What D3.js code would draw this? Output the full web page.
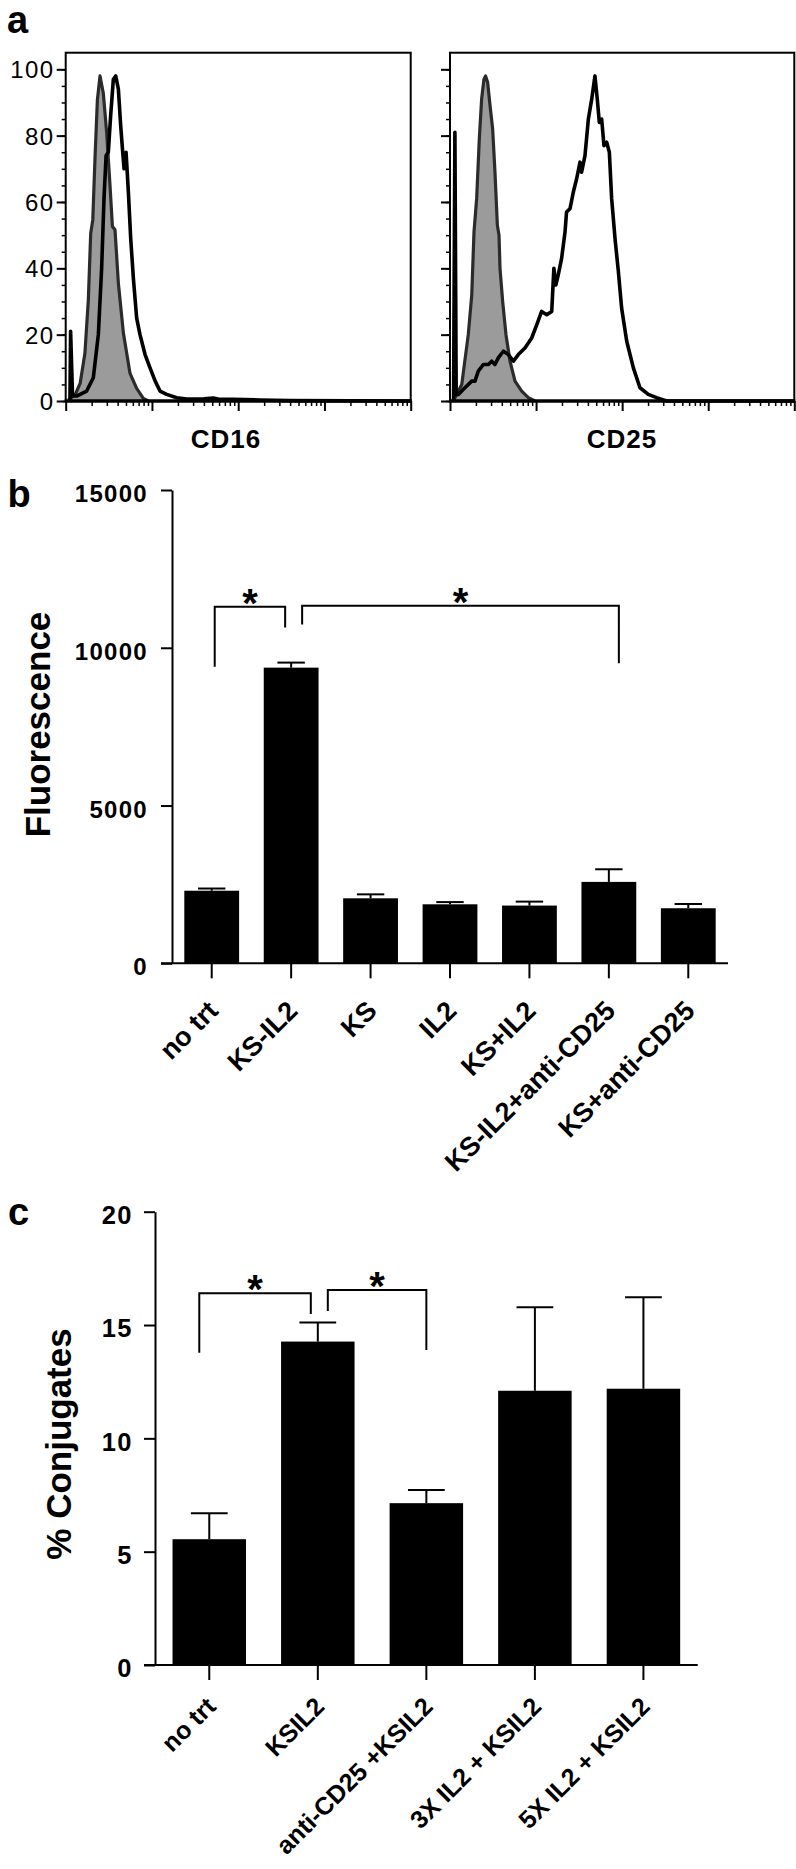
<!DOCTYPE html>
<html>
<head>
<meta charset="utf-8">
<script src="https://cdn.jsdelivr.net/npm/d3@7.9.0/dist/d3.min.js"></script>
<style>
  body { margin: 0; background: #fff; }
  svg { display: block; }
</style>
</head>
<body>
<svg id="fig" width="796" height="1869"></svg>
<script>
const FONT = '"Liberation Sans", Arial, Helvetica, sans-serif';

// ---- panel a: flow histograms, [fluorescence, % of max] ----
const cd16Isotype = [[1.07,0.3],[1.28,1.8],[1.47,5.3],[1.67,14.4],[1.83,30.5],[1.95,50.6],[2.06,54.6],[2.19,73.7],[2.33,90.8],[2.5,98],[2.73,92.8],[2.99,80.7],[3.27,64.6],[3.48,52.6],[3.73,51.6],[4.08,35.5],[4.67,20.4],[5.57,8.3],[6.65,3.8],[7.94,0.8],[9.08,0]];
const cd16Stained = [[1.12,0],[1.14,21],[1.2,1.5],[1.34,1.5],[1.75,3],[2.09,7],[2.39,20],[2.61,40],[2.78,61],[2.94,74],[3.12,75],[3.32,86],[3.57,97],[3.8,98],[4.08,94],[4.34,83],[4.58,75],[4.75,70],[5.01,75],[5.33,63],[5.67,49],[6.09,37],[6.65,25],[7.27,20],[8.32,14],[9.5,10],[10.9,6],[12.4,3],[14.8,2],[19.4,1],[25.3,0.6],[40,0.7],[51.5,0.9],[60,0.5],[88,0.5],[179,0.3],[400,0.1],[10000,0]];
const cd25Isotype = [[1.1,0],[1.14,1],[1.37,5],[1.63,20],[1.79,32],[1.9,51],[2.04,61],[2.19,79],[2.33,91],[2.48,97],[2.59,98],[2.74,96],[2.92,89],[3.13,82],[3.33,69],[3.55,53],[3.71,50],[3.81,40],[4.09,30],[4.47,20],[4.98,12],[5.69,6],[6.81,3],[8.13,1],[9.7,0]];
const cd25Stained = [[1.1,0],[1.14,81],[1.18,2],[1.25,2],[1.49,4],[1.79,6],[1.95,6],[2.13,9],[2.44,11],[2.79,11],[3.05,12],[3.33,11],[3.64,13],[4.17,15],[4.76,14],[5.45,12],[6.22,14],[7.43,16],[8.89,19],[10.2,23],[11.6,27],[13.3,26],[15.2,27],[16.1,40],[17,35],[18.1,38],[19.8,43],[21.7,51],[22.6,57],[24.8,58],[27.1,63],[29.6,67],[32.4,72],[33.8,69],[37,74],[40.5,85],[44.3,91],[48.3,98],[51.4,91],[54.3,84],[57.8,85],[61.5,77],[66.1,78],[71,75],[75.5,61],[82.6,49],[90.4,39],[98.6,28],[113,18],[135,10],[161,4],[201,2],[251,1],[329,0],[10000,0]];
const histTicks = [0, 20, 40, 60, 80, 100];
const histMinorTicks = d3.range(0, 101, 5);
const logMajor = [1, 10, 100, 1000, 10000];

// ---- panel b ----
const bTreatments = ['no trt', 'KS-IL2', 'KS', 'IL2', 'KS+IL2', 'KS-IL2+anti-CD25', 'KS+anti-CD25'];
const bMeans = [2300, 9370, 2060, 1870, 1830, 2580, 1745];
const bErrors = [70, 160, 125, 70, 125, 400, 135];
const bTicks = [0, 5000, 10000, 15000];
const bBrackets = [
  { from: 'no trt', to: 'KS-IL2', top: 11300, leftEnd: 9400, rightEnd: 10640 },
  { from: 'KS-IL2', to: 'KS-IL2+anti-CD25', top: 11330, leftEnd: 10740, rightEnd: 9510 },
];

// ---- panel c ----
const cTreatments = ['no trt', 'KSIL2', 'anti-CD25 +KSIL2', '3X IL2 + KSIL2', '5X IL2 + KSIL2'];
const cMeans = [5.55, 14.27, 7.14, 12.1, 12.19];
const cErrors = [1.14, 0.84, 0.58, 3.68, 4.04];
const cTicks = [0, 5, 10, 15, 20];
const cBrackets = [
  { from: 'no trt', to: 'KSIL2', top: 16.4, leftEnd: 13.78, rightEnd: 15.49 },
  { from: 'KSIL2', to: 'anti-CD25 +KSIL2', top: 16.55, leftEnd: 15.62, rightEnd: 13.9 },
];

const svg = d3.select('#fig').attr('font-family', FONT);

function panelLetter(t, x, y) {
  svg.append('text').attr('x', x).attr('y', y).attr('font-size', 38)
    .attr('font-weight', 'bold').text(t);
}

// ---------------- panel a ----------------
let yHist = d3.scaleLinear().domain([0, 100]).range([401, 69.3]);

function drawHistogram(x, isotype, stained, label, labelX, showLabels) {
  let g = svg.append('g');
  let [x0, x1] = x.range();
  let top = yHist(105);
  let bottom = yHist(0);

  let line = d3.line().x(d => x(d[0])).y(d => yHist(d[1]));
  let area = d3.area().x(d => x(d[0])).y0(bottom).y1(d => yHist(d[1]));

  g.append('path').datum(isotype).attr('d', area).attr('fill', '#9b9b9b');
  g.append('path').datum(isotype).attr('d', line)
    .attr('fill', 'none').attr('stroke', '#2b2b2b').attr('stroke-width', 3.2)
    .attr('stroke-linejoin', 'round');
  g.append('path').datum(stained).attr('d', line)
    .attr('fill', 'none').attr('stroke', '#000').attr('stroke-width', 3.6)
    .attr('stroke-linejoin', 'round');

  // frame, with heavier bottom edge
  g.append('rect').attr('x', x0).attr('y', top)
    .attr('width', x1 - x0).attr('height', bottom - top)
    .attr('fill', 'none').attr('stroke', '#000').attr('stroke-width', 2);
  g.append('line').attr('x1', x0 - 1).attr('x2', x1 + 1)
    .attr('y1', bottom).attr('y2', bottom)
    .attr('stroke', '#000').attr('stroke-width', 3.5);

  // y ticks
  let yAxis = d3.axisLeft(yHist).tickValues(histTicks).tickSize(9).tickPadding(2).tickSizeOuter(0);
  if (!showLabels) yAxis.tickFormat('');
  let ya = g.append('g').attr('transform', `translate(${x0},0)`).call(yAxis);
  ya.select('.domain').remove();
  ya.selectAll('line').attr('stroke-width', 2);
  ya.selectAll('text').attr('font-family', FONT).attr('font-size', 24)
    .attr('letter-spacing', 1.5).attr('dy', '0.36em').attr('fill', '#000');

  let yMinor = g.append('g').attr('transform', `translate(${x0},0)`)
    .call(d3.axisLeft(yHist).tickValues(histMinorTicks).tickSize(4).tickFormat(''));
  yMinor.select('.domain').remove();
  yMinor.selectAll('line').attr('stroke-width', 1.5);

  // log x ticks
  let minor = [];
  logMajor.slice(0, -1).forEach(dec => d3.range(2, 10).forEach(k => minor.push(k * dec)));
  let xa = g.append('g').attr('transform', `translate(0,${bottom})`)
    .call(d3.axisBottom(x).tickValues(logMajor).tickSize(10).tickFormat(''));
  xa.select('.domain').remove();
  xa.selectAll('line').attr('stroke-width', 2);
  let xm = g.append('g').attr('transform', `translate(0,${bottom})`)
    .call(d3.axisBottom(x).tickValues(minor).tickSize(5).tickFormat(''));
  xm.select('.domain').remove();
  xm.selectAll('line').attr('stroke-width', 1.5);

  g.append('text').attr('x', labelX).attr('y', 448).attr('text-anchor', 'middle')
    .attr('font-size', 26).attr('font-weight', 'bold').attr('letter-spacing', 1).text(label);
}

let xCd16 = d3.scaleLog().domain([1, 10000]).range([65.7, 410.7]);
let xCd25 = d3.scaleLog().domain([1, 10000]).range([450, 794.3]);
drawHistogram(xCd16, cd16Isotype, cd16Stained, 'CD16', 226, true);
drawHistogram(xCd25, cd25Isotype, cd25Stained, 'CD25', 622, false);
panelLetter('a', 7, 33);

// ---------------- bar panels ----------------
function drawBarPanel(o) {
  let g = svg.append('g');
  let x = d3.scaleBand().domain(o.categories).range(o.xRange)
    .paddingInner(o.pad).paddingOuter(o.pad / 2);
  let y = d3.scaleLinear().domain([0, o.max]).range(o.yRange);
  let cx = c => x(c) + x.bandwidth() / 2;
  let cap = x.bandwidth() / 4;

  // error bars (upper only)
  o.means.forEach((m, i) => {
    let c = cx(o.categories[i]);
    g.append('line').attr('x1', c).attr('x2', c)
      .attr('y1', y(m)).attr('y2', y(m + o.errors[i]))
      .attr('stroke', '#000').attr('stroke-width', 2);
    g.append('line').attr('x1', c - cap).attr('x2', c + cap)
      .attr('y1', y(m + o.errors[i])).attr('y2', y(m + o.errors[i]))
      .attr('stroke', '#000').attr('stroke-width', 2);
  });

  g.selectAll('rect.bar').data(o.means).join('rect')
    .attr('class', 'bar')
    .attr('x', (d, i) => x(o.categories[i]))
    .attr('y', d => y(d))
    .attr('width', x.bandwidth())
    .attr('height', d => y(0) - y(d))
    .attr('fill', '#000');

  // y axis
  let ya = g.append('g').attr('transform', `translate(${o.xRange[0]},0)`)
    .call(d3.axisLeft(y).tickValues(o.ticks).tickFormat(d3.format('d'))
      .tickSize(11).tickPadding(o.tickPad).tickSizeOuter(0));
  ya.selectAll('line, path').attr('stroke-width', 2);
  ya.selectAll('text').attr('font-family', FONT).attr('font-size', o.tickFont)
    .attr('font-weight', 'bold').attr('letter-spacing', o.tickSpacing)
    .attr('dy', o.tickDy).attr('fill', '#000');

  // x axis
  let xa = g.append('g').attr('transform', `translate(0,${y(0)})`)
    .call(d3.axisBottom(x).tickSize(15).tickSizeOuter(0));
  xa.select('.domain').attr('d', `M${o.xRange[0] - 11},0H${o.xRange[1]}`);
  xa.selectAll('line, path').attr('stroke-width', 2);
  xa.selectAll('text')
    .attr('font-family', FONT).attr('font-size', o.labelFont).attr('font-weight', 'bold')
    .attr('fill', '#000').attr('text-anchor', 'end')
    .attr('x', 0).attr('y', 0).attr('dy', 0)
    .attr('transform', `translate(${o.labelDx},${o.labelDy}) rotate(-45)`);

  // significance brackets
  o.brackets.forEach((b, i) => {
    let xl = cx(b.from) + o.nudge[i][0];
    let xr = cx(b.to) + o.nudge[i][1];
    g.append('path')
      .attr('d', `M${xl},${y(b.leftEnd)}V${y(b.top)}H${xr}V${y(b.rightEnd)}`)
      .attr('fill', 'none').attr('stroke', '#000').attr('stroke-width', 2);
    g.append('text').attr('x', (xl + xr) / 2).attr('y', y(b.top) + 10)
      .attr('text-anchor', 'middle').attr('font-size', 40).attr('font-weight', 'bold')
      .text('*');
  });

  svg.append('text')
    .attr('transform', `translate(${o.titleX},${o.titleY}) rotate(-90)`)
    .attr('text-anchor', 'middle').attr('font-size', 35).attr('font-weight', 'bold')
    .text(o.title);
}

drawBarPanel({
  categories: bTreatments, means: bMeans, errors: bErrors, ticks: bTicks, brackets: bBrackets,
  max: 15000, xRange: [172, 728], yRange: [963.3, 490], pad: 0.31,
  tickPad: 13, tickFont: 24, tickSpacing: 1.3, tickDy: '0.48em',
  labelFont: 27, labelDx: 8, labelDy: 49,
  nudge: [[3, -6], [11, 10]],
  title: 'Fluorescence', titleX: 50, titleY: 724.5,
});
panelLetter('b', 7.5, 506.7);

drawBarPanel({
  categories: cTreatments, means: cMeans, errors: cErrors, ticks: cTicks, brackets: cBrackets,
  max: 20, xRange: [155, 697.7], yRange: [1665, 1211.7], pad: 0.323,
  tickPad: 11, tickFont: 25.5, tickSpacing: 1.5, tickDy: '0.46em',
  labelFont: 25, labelDx: 8, labelDy: 43,
  nudge: [[-10, -7], [10, 0]],
  title: '% Conjugates', titleX: 71, titleY: 1444,
});
panelLetter('c', 8, 1225);
</script>
</body>
</html>
